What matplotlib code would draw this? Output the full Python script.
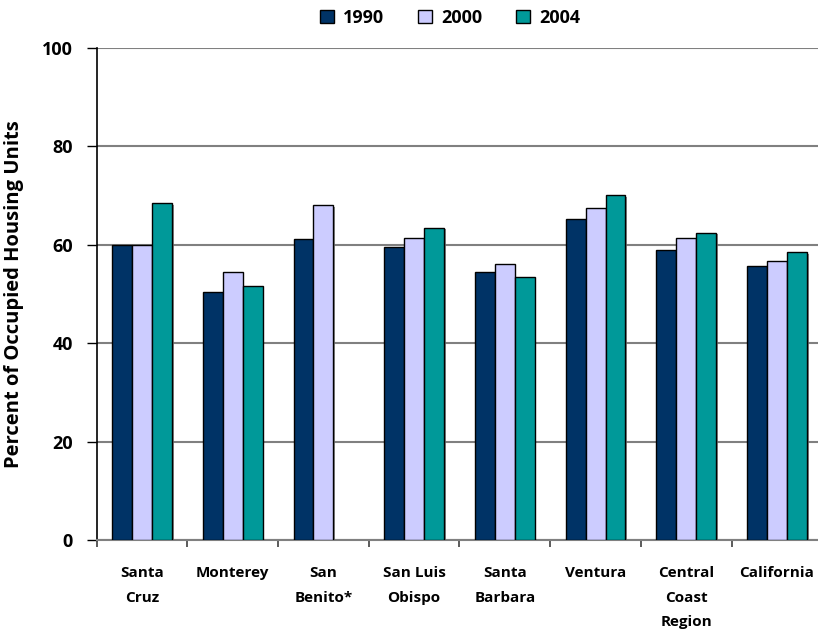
import numpy as np
import matplotlib
matplotlib.use("Agg")
import matplotlib.pyplot as plt
import matplotlib.patheffects as pe
from matplotlib.patches import Patch

plt.rcParams['font.family'] = ['Open Sans', 'DejaVu Sans']

categories = ["Santa\nCruz", "Monterey", "San\nBenito*", "San Luis\nObispo",
              "Santa\nBarbara", "Ventura", "Central\nCoast\nRegion", "California"]
years = ["1990", "2000", "2004"]
v1990 = [60.0, 50.5, 61.1, 59.6, 54.5, 65.3, 58.9, 55.6]
v2000 = [60.0, 54.5, 68.0, 61.4, 56.0, 67.4, 61.3, 56.8]
v2004 = [68.4, 51.7, np.nan, 63.5, 53.5, 70.1, 62.5, 58.5]
colors = ["#003366", "#CCCCFF", "#009999"]

fig = plt.figure(figsize=(8.18, 6.36), dpi=100)
ax = fig.add_axes([96.7 / 818, 1 - 540 / 636, 725.6 / 818, 492 / 636])

x = np.arange(len(categories))
w = 0.22
shadow = [pe.SimplePatchShadow(offset=(1.2, -1.2), shadow_rgbFace="#707070", alpha=0.8),
          pe.Normal()]
for i, (vals, c, lab) in enumerate(zip([v1990, v2000, v2004], colors, years)):
    bars = ax.bar(x + (i - 1) * w, vals, width=w, color=c, edgecolor="black",
                  linewidth=1.0, label=lab, zorder=3)
    for b in bars:
        b.set_path_effects(shadow)

ax.set_xlim(-0.5, len(categories) - 0.5)
ax.set_ylim(0, 100)
ax.set_yticks([0, 20, 40, 60, 80, 100])
ax.yaxis.grid(True, color="#808080", linewidth=1.5, zorder=0)
ax.set_axisbelow(True)

for s in ["top", "right"]:
    ax.spines[s].set_visible(False)
ax.spines["left"].set_linewidth(1.2)
ax.spines["bottom"].set_color("#808080")
ax.spines["bottom"].set_linewidth(1.5)

ax.set_xticks(x)
ax.set_xticklabels(categories, fontsize=11, fontweight="bold", linespacing=1.95,
                   va="top")
ax.tick_params(axis="x", which="major", length=0, pad=19)
ax.set_xticks(np.arange(-0.5, len(categories) + 0.5, 1), minor=True)
ax.tick_params(axis="x", which="minor", length=5, width=1.2, color="#404040",
               direction="out")
ax.tick_params(axis="y", length=7, width=1.0, direction="out", pad=10,
               labelsize=13)
for t in ax.get_yticklabels():
    t.set_fontweight("bold")

ax.set_ylabel("Percent of Occupied Housing Units", fontsize=14.5,
              fontweight="bold", labelpad=13)

handles = [Patch(facecolor=c, edgecolor="black", linewidth=1.0) for c in colors]
fig.legend(handles, years, loc="center", bbox_to_anchor=(450 / 818, 1 - 18 / 636),
           ncol=3, frameon=False, prop={"weight": "bold", "size": 13},
           handlelength=0.75, handleheight=0.75, columnspacing=1.9, handletextpad=0.5)

fig.savefig("out.png", dpi=100)
